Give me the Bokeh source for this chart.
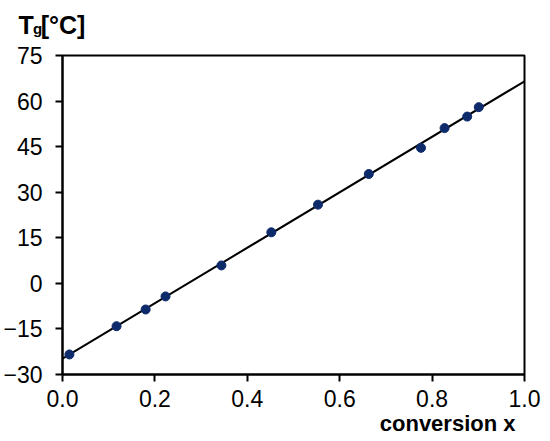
from bokeh.plotting import figure
from bokeh.models import Range1d, Label, FixedTicker, CustomJSTickFormatter
from bokeh.embed import file_html
from bokeh.resources import INLINE

conversion = [0.015, 0.117, 0.180, 0.223, 0.344, 0.452, 0.553, 0.663, 0.776, 0.827, 0.876, 0.901]
tg = [-23.4, -14.1, -8.6, -4.3, 5.9, 16.8, 25.9, 36.0, 44.6, 51.1, 54.9, 58.0]
fit_x = [0.0, 1.0]
fit_y = [-24.8, 66.5]
x_ticks = [0.0, 0.2, 0.4, 0.6, 0.8, 1.0]
y_ticks = [-30, -15, 0, 15, 30, 45, 60, 75]

FONT = "Liberation Sans"

p = figure(width=548, height=440, output_backend="svg", toolbar_location=None,
           x_range=Range1d(0, 1.0), y_range=Range1d(-30, 75),
           min_border_left=62, min_border_right=24, min_border_top=55, min_border_bottom=66)
p.xgrid.visible = False
p.ygrid.visible = False
p.outline_line_color = "black"
p.outline_line_width = 2

for ax, ticks in ((p.xaxis[0], x_ticks), (p.yaxis[0], y_ticks)):
    ax.ticker = FixedTicker(ticks=ticks)
    ax.axis_line_width = 2
    ax.major_tick_line_width = 2
    ax.major_tick_in = 0
    ax.major_tick_out = 7
    ax.minor_tick_line_color = None
    ax.major_label_text_font = FONT
    ax.major_label_text_font_size = "23px"
    ax.major_label_text_color = "black"

p.xaxis[0].major_label_standoff = 8
p.yaxis[0].major_label_standoff = 13
p.xaxis[0].formatter = CustomJSTickFormatter(code="return tick.toFixed(1);")

p.line(fit_x, fit_y, line_color="black", line_width=2)
p.scatter(conversion, tg, size=9, fill_color="#0d2b6b", line_color="#0d2b6b")

p.add_layout(Label(x=-0.0952, y=85.2, text="T [°C]", text_font=FONT, text_font_style="bold",
                   text_font_size="25px", text_color="black", text_baseline="alphabetic"), "above")
p.add_layout(Label(x=-0.0640, y=84.0, text="g", text_font=FONT, text_font_style="bold",
                   text_font_size="15px", text_color="black", text_baseline="alphabetic"), "right")
p.add_layout(Label(x=0.9805, y=-46.13, text="conversion x", text_font=FONT, text_font_style="bold",
                   text_font_size="22px", text_color="black", text_align="right",
                   text_baseline="alphabetic"), "below")

open("out.html", "w").write(file_html(p, INLINE))
